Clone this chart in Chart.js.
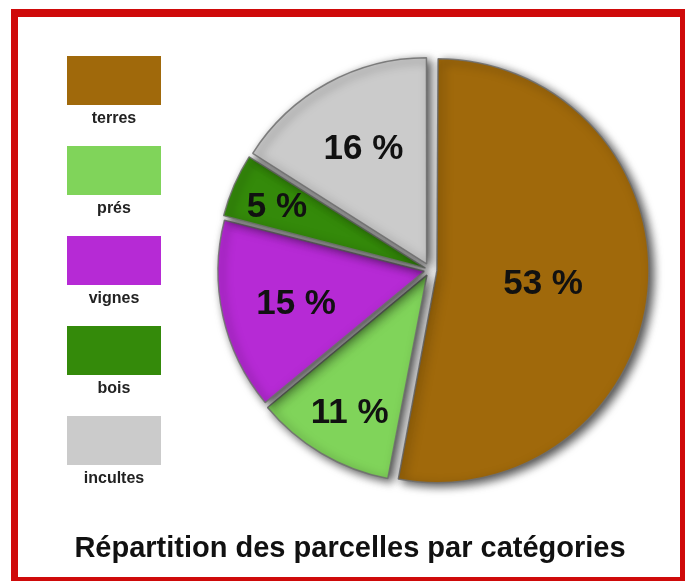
<!DOCTYPE html>
<html>
<head>
<meta charset="utf-8">
<script src="https://cdn.jsdelivr.net/npm/chart.js@4"></script>
<style>
  body { margin: 0; background: #fff; }
  #frame {
    position: absolute; left: 11px; top: 9px;
    width: 662px; height: 560px;
    border-style: solid; border-color: #cf0a0a;
    border-width: 8px 5px 4px 7px;
    background: #fff;
  }
  #chart { position: absolute; left: 0; top: 0; }
  #title {
    position: absolute; left: 0; width: 664px; top: 514px;
    text-align: center;
    font: bold 29px "Liberation Sans", Arial, sans-serif;
    color: #111;
  }
</style>
</head>
<body>
<div id="frame">
  <canvas id="chart" width="662" height="560"></canvas>
  <div id="title">Répartition des parcelles par catégories</div>
</div>
<script>
const categories = ["terres", "prés", "vignes", "bois", "incultes"];
const percents = [53, 11, 15, 5, 16];
const colors = ["#a0690b", "#80d45a", "#b62ad5", "#348a0a", "#cbcbcb"];

// styling only: explode distance in px, label distance as share of radius
const sliceOffsets = [7, 6, 6, 5, 7];
const labelRadius = [0.51, 0.76, 0.65, 0.80, 0.66];

const shadowPlugin = {
  id: "shadow",
  beforeDatasetsDraw(chart) {
    const ctx = chart.ctx;
    ctx.save();
    ctx.shadowColor = "rgba(0,0,0,0.7)";
    ctx.shadowBlur = 10;
    ctx.shadowOffsetX = 4;
    ctx.shadowOffsetY = 3;
  },
  afterDatasetsDraw(chart) {
    chart.ctx.restore();
  },
};

const sliceLabels = {
  id: "sliceLabels",
  afterDatasetsDraw(chart) {
    const ctx = chart.ctx;
    const arcs = chart.getDatasetMeta(0).data;
    ctx.save();
    ctx.fillStyle = "#111";
    ctx.font = "bold 35px 'Liberation Sans', Arial, sans-serif";
    ctx.textAlign = "center";
    ctx.textBaseline = "middle";
    arcs.forEach((arc, i) => {
      const mid = (arc.startAngle + arc.endAngle) / 2;
      const r = arc.outerRadius * labelRadius[i] + sliceOffsets[i];
      ctx.fillText(percents[i] + " %", arc.x + Math.cos(mid) * r + 2, arc.y + Math.sin(mid) * r + 4);
    });
    ctx.restore();
  },
};

const sideLegend = {
  id: "sideLegend",
  afterDraw(chart) {
    const ctx = chart.ctx;
    ctx.save();
    categories.forEach((name, i) => {
      const y = 39 + i * 90;
      ctx.fillStyle = colors[i];
      ctx.fillRect(49, y, 94, 49);
      ctx.fillStyle = "#222";
      ctx.font = "bold 16px 'Liberation Sans', Arial, sans-serif";
      ctx.textAlign = "center";
      ctx.textBaseline = "middle";
      ctx.fillText(name, 96, y + 63);
    });
    ctx.restore();
  },
};

new Chart(document.getElementById("chart"), {
  type: "pie",
  data: {
    labels: categories,
    datasets: [{
      data: percents,
      backgroundColor: colors,
      borderColor: "rgba(110,110,110,0.85)",
      borderWidth: 1.5,
      // Chart.js moves an arc by offset / 4
      offset: sliceOffsets.map(o => o * 4),
      hoverOffset: 0,
    }],
  },
  options: {
    responsive: false,
    animation: false,
    radius: 205,
    layout: { padding: { left: 162, right: 0, top: 0, bottom: 54 } },
    plugins: {
      legend: { display: false },
      tooltip: { enabled: false },
    },
  },
  plugins: [shadowPlugin, sliceLabels, sideLegend],
});
</script>
</body>
</html>
